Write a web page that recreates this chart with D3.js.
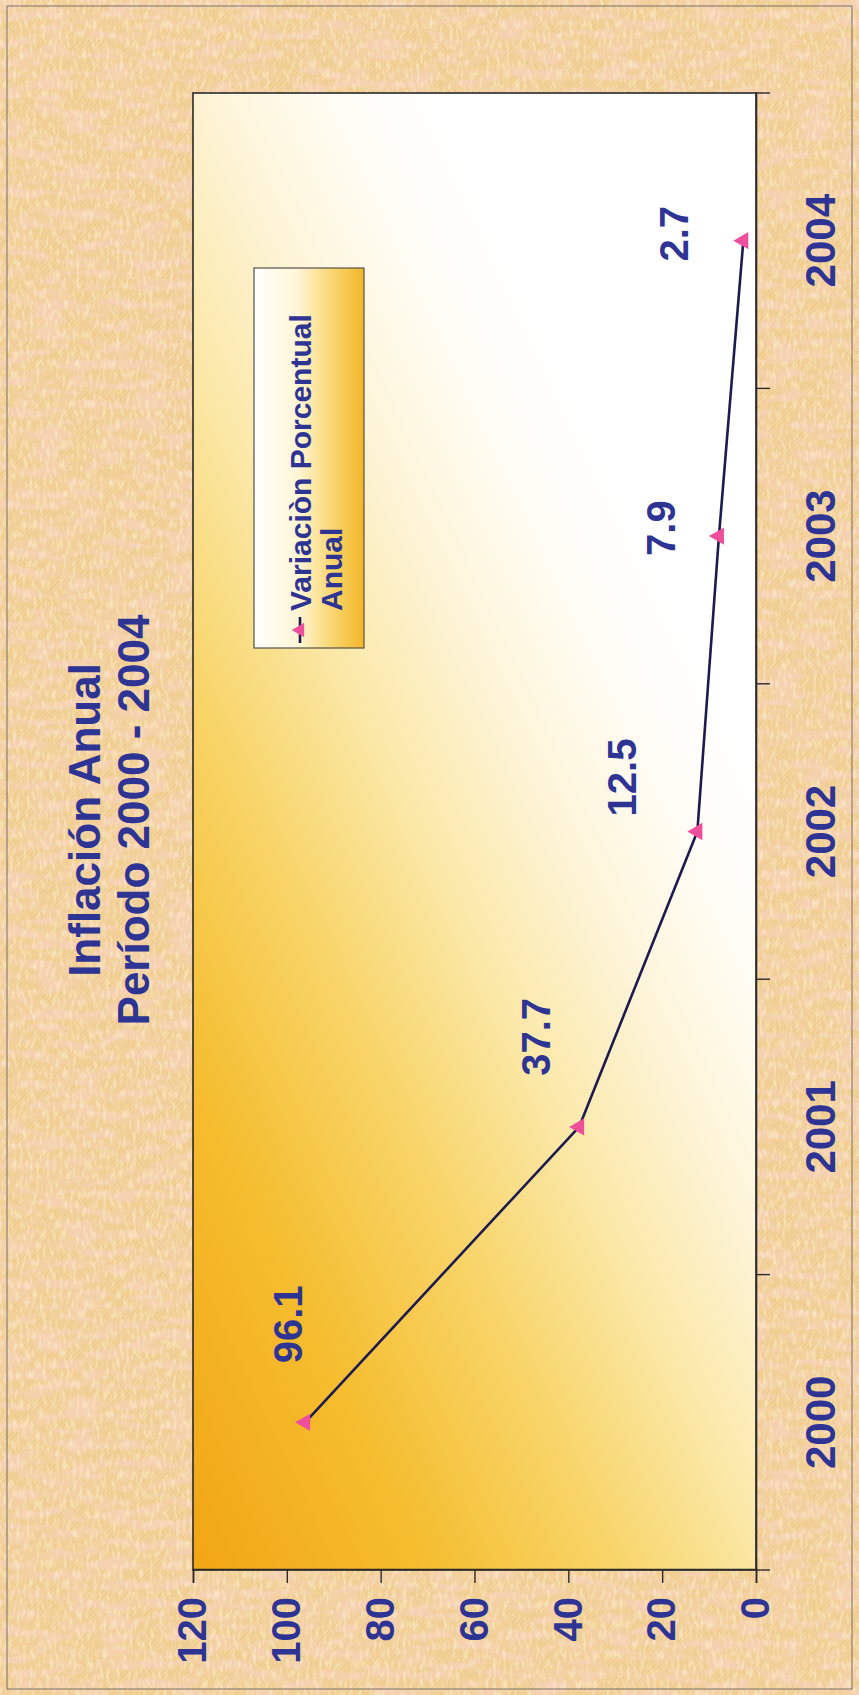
<!DOCTYPE html>
<html>
<head>
<meta charset="utf-8">
<script src="https://cdn.jsdelivr.net/npm/d3@7"></script>
<style>
  body { margin: 0; background: #fff; }
  text { font-family: "Liberation Sans", Arial, sans-serif; font-weight: bold; }
</style>
</head>
<body>
<svg id="chart" width="859" height="1695"></svg>
<script>
// data
var years = ["2000", "2001", "2002", "2003", "2004"];
var inflation = [96.1, 37.7, 12.5, 7.9, 2.7];
var valueTicks = [0, 20, 40, 60, 80, 100, 120];
var titleLines = ["Inflación Anual", "Período 2000 - 2004"];
var legendLines = ["Variaciòn Porcentual", "Anual"];

// the printed chart lies on its side: it is built in a 1695 x 859 frame and turned -90deg
var svg = d3.select("#chart"),
    W = +svg.attr("width"),
    H = +svg.attr("height"),
    CW = H, CH = W,
    margin = {top: 193, right: 93, bottom: 103, left: 125};

// hand placed value labels (offset from their point, chart frame)
var labelOffsets = [[98, -18], [90, -44], [54, -76], [8, -58], [7, -70]];

var blue = "#2d3494", pink = "#ee4f9c", ink = "#1c1a4e", axisInk = "#2a2a2a";

var defs = svg.append("defs");

// papyrus like paper
var paper = defs.append("filter").attr("id", "paper")
    .attr("x", 0).attr("y", 0).attr("width", "100%").attr("height", "100%");
paper.append("feTurbulence")
    .attr("type", "fractalNoise")
    .attr("baseFrequency", "0.03 0.1")
    .attr("numOctaves", 4)
    .attr("seed", 11);
paper.append("feColorMatrix")
    .attr("type", "matrix")
    .attr("values", "0 0 0 0 0.92  0 0 0 0 0.64  0 0 0 0 0.44  3.4 0 0 0 -1.35");

var grain = defs.append("filter").attr("id", "grain")
    .attr("x", 0).attr("y", 0).attr("width", "100%").attr("height", "100%");
grain.append("feTurbulence")
    .attr("type", "fractalNoise")
    .attr("baseFrequency", "0.3 0.1")
    .attr("numOctaves", 2)
    .attr("seed", 4);
grain.append("feColorMatrix")
    .attr("type", "matrix")
    .attr("values", "0 0 0 0 0.99  0 0 0 0 0.91  0 0 0 0 0.68  0 2.6 0 0 -1.2");

var hatch = defs.append("pattern").attr("id", "hatch")
    .attr("patternUnits", "userSpaceOnUse")
    .attr("width", 5).attr("height", 5);
hatch.append("path")
    .attr("d", "M0,5 L5,0 M-1,1 L1,-1 M4,6 L6,4")
    .attr("stroke", "#e59c6c")
    .attr("stroke-width", 0.9);

var plotFill = defs.append("linearGradient").attr("id", "plotFill")
    .attr("x1", 0).attr("y1", 0).attr("x2", 0.81).attr("y2", 0.65);
plotFill.selectAll("stop")
    .data([[0, "#f1a514"], [0.25, "#f5bd2f"], [0.45, "#f8d468"], [0.62, "#fbe8a8"], [0.77, "#fdf4d8"], [0.9, "#fffcf4"], [1, "#ffffff"]])
    .enter().append("stop")
    .attr("offset", function(d) { return d[0]; })
    .attr("stop-color", function(d) { return d[1]; });

var legFill = defs.append("linearGradient").attr("id", "legFill")
    .attr("x1", 0).attr("y1", 0).attr("x2", 0).attr("y2", 1);
legFill.selectAll("stop")
    .data([[0, "#ffffff"], [0.4, "#fff6d6"], [0.7, "#f9d773"], [1, "#f3b628"]])
    .enter().append("stop")
    .attr("offset", function(d) { return d[0]; })
    .attr("stop-color", function(d) { return d[1]; });

// page
svg.append("rect").attr("width", W).attr("height", H).attr("fill", "#f2d196");
svg.append("rect").attr("width", W).attr("height", H).attr("fill", "url(#hatch)").attr("opacity", 0.28);
svg.append("rect").attr("width", W).attr("height", H).attr("filter", "url(#paper)");
svg.append("rect").attr("width", W).attr("height", H).attr("filter", "url(#grain)").attr("opacity", 0.6);
svg.append("rect")
    .attr("x", 7).attr("y", 6).attr("width", W - 14).attr("height", H - 12)
    .attr("fill", "none").attr("stroke", "#77736a").attr("stroke-width", 1);

var g = svg.append("g")
    .attr("transform", "translate(0," + H + ") rotate(-90)");

var x = d3.scaleBand()
    .domain(years)
    .range([margin.left, CW - margin.right]);

var y = d3.scaleLinear()
    .domain([0, 120])
    .range([CH - margin.bottom, margin.top]);

var cx = function(d, i) { return x(years[i]) + x.bandwidth() / 2; };

g.append("rect")
    .attr("x", margin.left)
    .attr("y", margin.top)
    .attr("width", CW - margin.left - margin.right)
    .attr("height", CH - margin.top - margin.bottom)
    .attr("fill", "url(#plotFill)")
    .attr("stroke", axisInk)
    .attr("stroke-width", 1.6);

// value axis
var yAxis = g.append("g")
    .attr("transform", "translate(" + margin.left + ",0)")
    .call(d3.axisLeft(y).tickValues(valueTicks).tickSize(13).tickPadding(14));
yAxis.select(".domain").attr("stroke", axisInk).attr("stroke-width", 1.6);
yAxis.selectAll(".tick line").attr("stroke", axisInk).attr("stroke-width", 1.4);
yAxis.selectAll(".tick text")
    .attr("fill", blue)
    .attr("font-size", 40)
    .attr("font-family", "Liberation Sans, Arial, sans-serif")
    .attr("font-weight", "bold");

// category axis
var xAxis = g.append("g")
    .attr("transform", "translate(0," + (CH - margin.bottom) + ")")
    .call(d3.axisBottom(x).tickSize(0).tickPadding(49));
xAxis.select(".domain").attr("stroke", axisInk).attr("stroke-width", 1.6);
xAxis.selectAll(".tick text")
    .attr("fill", blue)
    .attr("font-size", 42)
    .attr("font-family", "Liberation Sans, Arial, sans-serif")
    .attr("font-weight", "bold");

xAxis.selectAll(".bound")
    .data(years.concat([null]))
    .enter().append("line")
    .attr("class", "bound")
    .attr("x1", function(d) { return d === null ? x.range()[1] : x(d); })
    .attr("x2", function(d) { return d === null ? x.range()[1] : x(d); })
    .attr("y1", 0)
    .attr("y2", 14)
    .attr("stroke", axisInk)
    .attr("stroke-width", 1.4);

// series
g.append("path")
    .datum(inflation)
    .attr("fill", "none")
    .attr("stroke", ink)
    .attr("stroke-width", 2.6)
    .attr("stroke-linejoin", "round")
    .attr("d", d3.line()
        .x(cx)
        .y(function(d) { return y(d); }));

g.selectAll(".pt")
    .data(inflation)
    .enter().append("path")
    .attr("class", "pt")
    .attr("transform", function(d, i) { return "translate(" + cx(d, i) + "," + y(d) + ")"; })
    .attr("d", d3.symbol(d3.symbolTriangle, 130))
    .attr("fill", pink);

g.selectAll(".vlab")
    .data(inflation)
    .enter().append("text")
    .attr("class", "vlab")
    .attr("x", function(d, i) { return cx(d, i) + labelOffsets[i][0]; })
    .attr("y", function(d, i) { return y(d) + labelOffsets[i][1]; })
    .attr("dy", "0.36em")
    .attr("text-anchor", "middle")
    .attr("fill", blue)
    .attr("font-size", 40)
    .text(function(d) { return d3.format(".1f")(d); });

// title
g.selectAll(".title")
    .data(titleLines)
    .enter().append("text")
    .attr("class", "title")
    .attr("x", CW - 820)
    .attr("y", function(d, i) { return 100 + i * 49; })
    .attr("text-anchor", "middle")
    .attr("fill", blue)
    .attr("font-size", 44)
    .text(function(d) { return d; });

// legend
var leg = g.append("g")
    .attr("transform", "translate(" + (CW - 648) + ",254)");
leg.append("rect")
    .attr("width", 380)
    .attr("height", 110)
    .attr("fill", "url(#legFill)")
    .attr("stroke", "#55524a")
    .attr("stroke-width", 1.2);
leg.append("line")
    .attr("x1", 5).attr("x2", 31)
    .attr("y1", 46).attr("y2", 46)
    .attr("stroke", ink).attr("stroke-width", 2.6);
leg.append("path")
    .attr("transform", "translate(18,46)")
    .attr("d", d3.symbol(d3.symbolTriangle, 90))
    .attr("fill", pink);
leg.selectAll(".ltxt")
    .data(legendLines)
    .enter().append("text")
    .attr("class", "ltxt")
    .attr("x", 37)
    .attr("y", function(d, i) { return 57 + i * 31; })
    .attr("fill", blue)
    .attr("font-size", 30)
    .text(function(d) { return d; });
</script>
</body>
</html>
